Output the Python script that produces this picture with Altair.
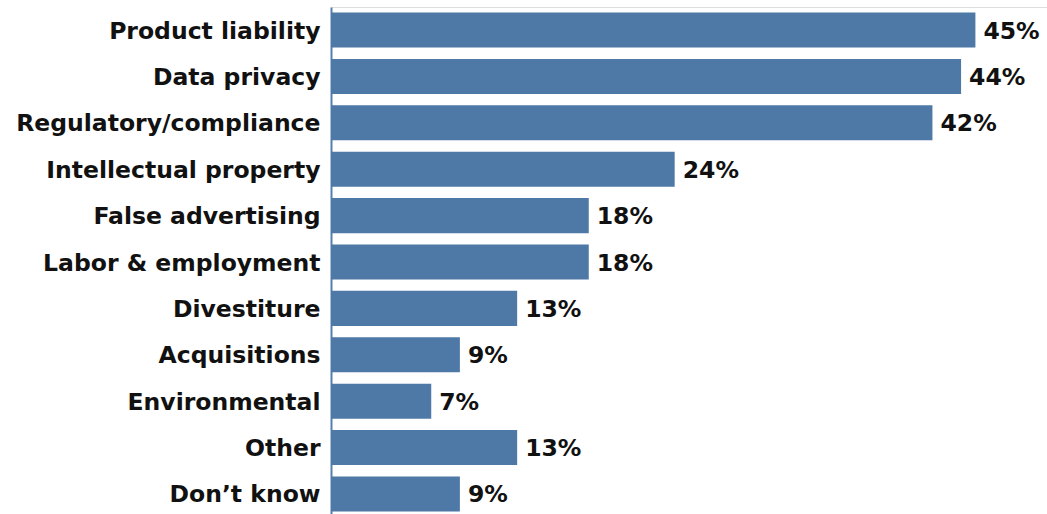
import altair as alt
import pandas as pd

categories = ["Product liability", "Data privacy", "Regulatory/compliance",
              "Intellectual property", "False advertising", "Labor & employment",
              "Divestiture", "Acquisitions", "Environmental", "Other", "Don\u2019t know"]
values = [45, 44, 42, 24, 18, 18, 13, 9, 7, 13, 9]
labels = [f"{v}%" for v in values]

df = pd.DataFrame({"cat": categories, "val": values, "label": labels})

FONT = "DejaVu Sans"

y = alt.Y("cat:N", sort=categories,
          scale=alt.Scale(paddingInner=0.245, paddingOuter=0.12),
          axis=alt.Axis(title=None, ticks=False, grid=False, labelFont=FONT, labelFontSize=23.5,
                        labelFontWeight="bold", labelColor="#111111", labelPadding=11,
                        labelOffset=1.5,
                        domain=True, domainColor="#5580ad", domainWidth=2,
                        labelLimit=400))
x = alt.X("val:Q", scale=alt.Scale(domain=[0, 50], nice=False), axis=None)

bars = alt.Chart(df).mark_bar(color="#4e79a7").encode(y=y, x=x)
text = alt.Chart(df).mark_text(align="left", baseline="middle", dx=8, dy=1.5, font=FONT,
                               fontSize=23.5, fontWeight="bold", color="#111111").encode(
    y=alt.Y("cat:N", sort=categories), x=x, text="label:N")

chart = alt.layer(bars, text).properties(
    width=716, height=510,
    autosize=alt.AutoSizeParams(type="none"),
    padding={"left": 331, "top": 7, "right": 0, "bottom": 0},
).configure_view(stroke=None, strokeWidth=0).configure_axis(grid=False).configure(background="white")

chart.save("out.html", embed_options={"renderer": "svg", "actions": False})
